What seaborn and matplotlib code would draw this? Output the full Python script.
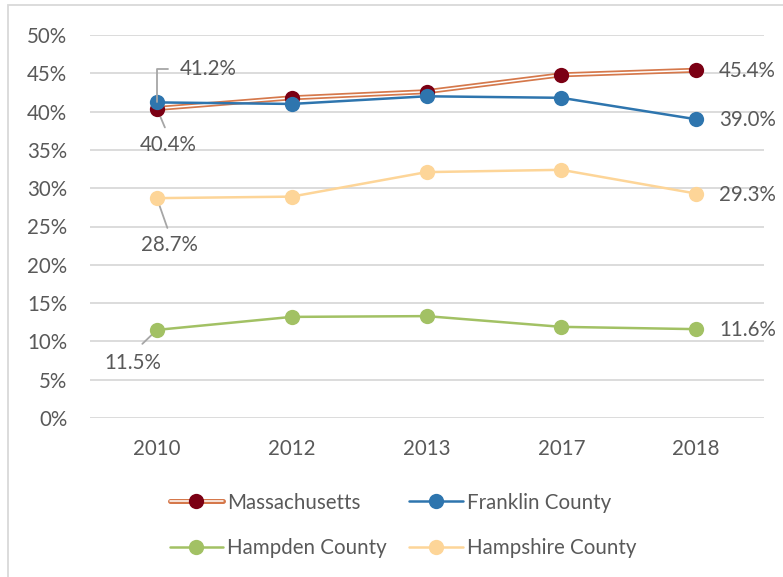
import matplotlib
matplotlib.use("Agg")
import matplotlib.pyplot as plt
import matplotlib.patheffects as pe
from matplotlib.patches import Rectangle
from matplotlib.lines import Line2D
from matplotlib.legend_handler import HandlerTuple
import seaborn as sns
import pandas as pd

# Share of residents, by year
years = ["2010", "2012", "2013", "2017", "2018"]
massachusetts = [40.4, 41.8, 42.6, 44.8, 45.4]
franklin = [41.2, 41.0, 42.0, 41.8, 39.0]
hampden = [11.5, 13.2, 13.3, 11.9, 11.6]
hampshire = [28.7, 28.9, 32.1, 32.4, 29.3]

series_names = ["Massachusetts", "Franklin County", "Hampden County", "Hampshire County"]
colors = {
    "Massachusetts": "#7B0014",
    "Franklin County": "#2E75AE",
    "Hampden County": "#A2C164",
    "Hampshire County": "#FDD598",
}
ma_outline = "#D5784B"
text_color = "#595959"
grid_color = "#D9D9D9"
leader_color = "#A6A6A6"

df = pd.DataFrame({
    "year": years * 4,
    "value": massachusetts + franklin + hampden + hampshire,
    "series": sum([[s] * len(years) for s in series_names], []),
})

sns.set_theme(style="white")
plt.rcParams["font.family"] = ["Lato", "DejaVu Sans"]
plt.rcParams["text.color"] = text_color

W, H = 783, 577
fig = plt.figure(figsize=(W / 100, H / 100), dpi=100)
ax = fig.add_axes([89.5 / W, 1 - 418 / H, (763.5 - 89.5) / W, (418 - 35) / H])

fs = 14.8
ma_effects = [pe.Stroke(linewidth=3.6, foreground=ma_outline), pe.Normal()]

# Massachusetts: double-stroke line, then markers
ma = df[df.series == "Massachusetts"]
sns.lineplot(data=ma, x="year", y="value", ax=ax, color="white", lw=1.1,
             sort=False, legend=False, zorder=2, path_effects=ma_effects)
sns.lineplot(data=ma, x="year", y="value", ax=ax, color=colors["Massachusetts"],
             lw=0, marker="o", markersize=11, markeredgewidth=0,
             sort=False, legend=False, zorder=3)

for name in ["Franklin County", "Hampshire County", "Hampden County"]:
    sub = df[df.series == name]
    sns.lineplot(data=sub, x="year", y="value", ax=ax, color=colors[name], lw=1.8,
                 marker="o", markersize=11, markeredgewidth=0,
                 sort=False, legend=False, zorder=4)

ax.set_xlim(-0.5, len(years) - 0.5)
ax.set_ylim(0, 50)
ax.set_yticks(range(0, 51, 5))
ax.set_yticklabels([f"{v}%" for v in range(0, 51, 5)])
ax.set_xlabel("")
ax.set_ylabel("")
ax.grid(axis="y", color=grid_color, lw=1.3)
ax.grid(axis="x", visible=False)
ax.set_axisbelow(True)
for s in ax.spines.values():
    s.set_visible(False)
ax.tick_params(axis="y", length=0, pad=16, labelsize=fs, labelcolor=text_color)
ax.tick_params(axis="x", length=0, pad=15, labelsize=fs, labelcolor=text_color)

# Data labels for first and last points
lead = dict(arrowstyle="-", color=leader_color, lw=1.3, shrinkB=0)
ax.annotate(f"{franklin[0]:.1f}%", xy=(0, franklin[0]), xytext=(23, 33),
            textcoords="offset pixels", ha="left", va="center", fontsize=fs,
            arrowprops=dict(**lead, shrinkA=6, relpos=(0, 0.5),
                            connectionstyle="angle,angleA=180,angleB=90,rad=0"),
            zorder=5)
ax.annotate(f"{massachusetts[0]:.1f}%", xy=(0, massachusetts[0]), xytext=(11, -36),
            textcoords="offset pixels", ha="center", va="center", fontsize=fs,
            arrowprops=dict(**lead, shrinkA=3, relpos=(0.5, 1)), zorder=1)
ax.annotate(f"{hampshire[0]:.1f}%", xy=(0, hampshire[0]), xytext=(13, -47),
            textcoords="offset pixels", ha="center", va="center", fontsize=fs,
            arrowprops=dict(**lead, shrinkA=3, relpos=(0.5, 1)), zorder=1)
ax.annotate(f"{hampden[0]:.1f}%", xy=(0, hampden[0]), xytext=(-24, -33),
            textcoords="offset pixels", ha="center", va="center", fontsize=fs,
            arrowprops=dict(**lead, shrinkA=6, relpos=(0.5, 1)), zorder=1)
for vals in [massachusetts, franklin, hampshire, hampden]:
    ax.annotate(f"{vals[-1]:.1f}%", xy=(len(years) - 1, vals[-1]), xytext=(23, -1),
                textcoords="offset pixels", ha="left", va="center", fontsize=fs)

# Legend
ma_line = Line2D([], [], color="white", lw=1.1, path_effects=ma_effects)
ma_dot = Line2D([], [], lw=0, marker="o", markersize=11,
                markerfacecolor=colors["Massachusetts"], markeredgewidth=0)
handles = [(ma_line, ma_dot)]
for name in ["Hampden County", "Franklin County", "Hampshire County"]:
    handles.append(Line2D([], [], color=colors[name], lw=1.8, marker="o",
                          markersize=11, markeredgewidth=0))
labels = ["Massachusetts", "Hampden County", "Franklin County", "Hampshire County"]
fig.legend(handles, labels, ncol=2, loc="center", bbox_to_anchor=(403 / W, 1 - 525.5 / H),
           frameon=False, fontsize=fs, handlelength=2.6, handletextpad=0.2,
           columnspacing=1.1, labelspacing=1.25, labelcolor=text_color,
           handler_map={tuple: HandlerTuple(ndivide=1, pad=0)})

# Outer chart border
fig.patches.append(Rectangle((8 / W, -0.05), 1.1, 1.05 - 5 / H, transform=fig.transFigure,
                             fill=False, edgecolor=grid_color, lw=1.3))

fig.savefig("out.png", dpi=100)
